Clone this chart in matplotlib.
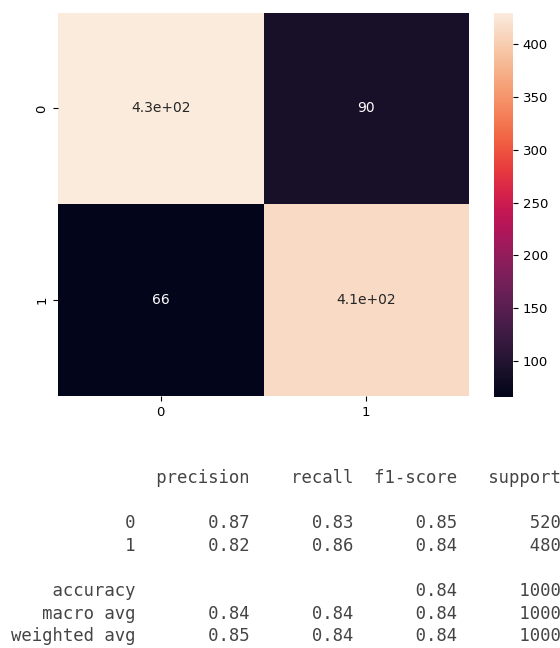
import matplotlib
matplotlib.use("Agg")
import matplotlib.pyplot as plt
import seaborn as sns
import numpy as np

# confusion matrix
labels = ["0", "1"]
cm = np.array([[430, 90],
               [66, 414]])

# classification report values
precision = [0.87, 0.82]
recall = [0.83, 0.86]
f1 = [0.85, 0.84]
support = [520, 480]
accuracy = 0.84
total = 1000
macro_avg = [0.84, 0.84, 0.84]
weighted_avg = [0.85, 0.84, 0.84]


def build_report():
    width = 12
    lines = []
    lines.append("{:>{w}s} ".format("", w=width) + "".join(" {:>9}".format(h) for h in
                 ["precision", "recall", "f1-score", "support"]))
    lines.append("")
    for i, name in enumerate(labels):
        lines.append("{:>{w}s} ".format(name, w=width)
                     + " {:>9.2f} {:>9.2f} {:>9.2f}".format(precision[i], recall[i], f1[i])
                     + " {:>9}".format(support[i]))
    lines.append("")
    lines.append("{:>{w}s} ".format("accuracy", w=width) + " {:>9} {:>9}".format("", "")
                 + " {:>9.2f} {:>9}".format(accuracy, total))
    lines.append("{:>{w}s} ".format("macro avg", w=width)
                 + " {:>9.2f} {:>9.2f} {:>9.2f}".format(*macro_avg) + " {:>9}".format(total))
    lines.append("{:>{w}s} ".format("weighted avg", w=width)
                 + " {:>9.2f} {:>9.2f} {:>9.2f}".format(*weighted_avg) + " {:>9}".format(total))
    return lines


def main():
    W, H = 560, 648
    fig = plt.figure(figsize=(W / 100, H / 100), dpi=100)
    ax = fig.add_axes([58 / W, 1 - 396 / H, (469 - 58) / W, (396 - 12.5) / H])
    cax = fig.add_axes([494 / W, 1 - 397 / H, 19 / W, (397 - 12.5) / H])

    sns.heatmap(cm, annot=True, ax=ax, cbar_ax=cax, annot_kws={"size": 10})
    ax.set_xticklabels(labels, fontsize=9.5)
    ax.set_yticklabels(labels, fontsize=9.5, rotation=90, va="center")
    cax.tick_params(labelsize=9.5)

    for k, line in enumerate(build_report()):
        y = 483 + 22.6 * k
        fig.text(11 / W, 1 - y / H, line, family="DejaVu Sans Mono", fontsize=12.4,
                 color="#444444", va="baseline", ha="left")

    fig.savefig("out.png", dpi=100)


if __name__ == "__main__":
    main()
